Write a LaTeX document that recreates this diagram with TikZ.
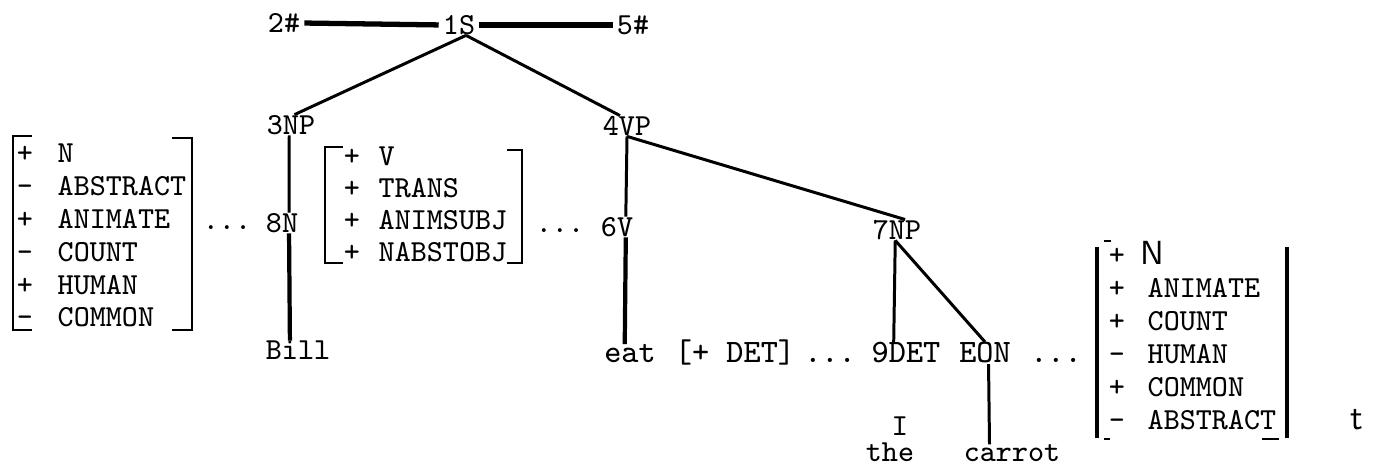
\documentclass[tikz,border=0pt]{standalone}
\begin{document}
\begin{tikzpicture}[x=0.01cm,y=-0.01cm,
    every node/.style={font=\fontsize{8.7}{10}\ttfamily,inner sep=0pt},
    rowtext/.style={font=\fontsize{9.3}{11}\ttfamily,anchor=base},
    feat/.style={anchor=base west},
    sign/.style={anchor=base},
    branch/.style={line width=0.85pt},
    stem/.style={line width=1.2pt},
    rule/.style={line width=1.5pt,shorten <=1pt,shorten >=1pt},
    brack/.style={line width=0.8pt}]
    \useasboundingbox (0,0) rectangle (1377,465);
    % sentence with boundaries
    \node (h2) at (284,23) {2\#};
    \node (s1) at (459,25) {1S};
    \node (h5) at (633,25) {5\#};
    \draw[rule] (h2.east)--(s1.west);
    \draw[rule] (s1.east)--(h5.west);
    % tree
    \node (np3) at (291,125) {3NP};
    \node (vp4) at (627,126) {4VP};
    \node (n8) at (282,223) {8N};
    \node (v6) at (617,227) {6V};
    \node (np7) at (897,230) {7NP};
    \draw[branch] ([xshift=2pt]s1.south)--([xshift=1pt]np3.north);
    \draw[branch] ([xshift=2pt]s1.south)--([xshift=-2pt]vp4.north);
    \draw[branch] ([xshift=-0.5pt]np3.south)--([xshift=2pt]n8.north);
    \draw[branch] (vp4.south)--([xshift=2.5pt]v6.north);
    \draw[branch] (vp4.south)--([xshift=2.3pt]np7.north);
    \node[anchor=base] (bill) at (298,360) {Bill};
    \node[rowtext] (eat) at (630,363) {eat};
    \node[rowtext] (det) at (735,363) {[+ DET]};
    \node[rowtext] (dots3) at (830,363) {...};
    \node[rowtext] (det9) at (906,363) {9DET};
    \node[rowtext] (eon) at (985,363) {EON};
    \node[rowtext] (dots4) at (1056,363) {...};
    \draw[stem] ([xshift=2pt]n8.south)--([xshift=-2.3pt]bill.north);
    \draw[stem] ([xshift=2.5pt]v6.south)--([xshift=-1.5pt]eat.north);
    \draw[branch] ([xshift=-0.5pt]np7.south)--([xshift=-3.5pt]det9.north);
    \draw[branch] ([xshift=-0.5pt]np7.south)--(eon.north);
    \node[anchor=base] (bar) at (900,436) {I};
    \node[anchor=base] (the) at (890,462) {the};
    \node[anchor=base] (carrot) at (1012,462) {carrot};
    \draw[branch] ([xshift=1pt]eon.south)--([xshift=-6.4pt]carrot.north);
    % features of Bill
    \foreach \s/\w [count=\i] in {+/N,-/ABSTRACT,+/ANIMATE,-/COUNT,+/HUMAN,-/COMMON}{
        \node[sign] (sa\i) at (25,{163+32.8*(\i-1)}) {\s};
        \node[feat] (fa\i) at (57,{163+32.8*(\i-1)}) {\w};
    }
    \draw[brack] (32,136)--(13,136)--(13,330)--(32,330);
    \draw[brack] (172,138)--(192,138)--(192,330)--(172,330);
    \node[anchor=base] (dots1) at (227,230) {...};
    % features of eat
    \foreach \w [count=\i] in {V,TRANS,ANIMSUBJ,NABSTOBJ}{
        \node[sign] (sb\i) at (352,{166+31.7*(\i-1)}) {+};
        \node[feat] (fb\i) at (378,{166+31.7*(\i-1)}) {\w};
    }
    \draw[brack] (343,147)--(325,147)--(325,263)--(343,263);
    \draw[brack] (507,150)--(522,150)--(522,263)--(507,263);
    \node[anchor=base] (dots2) at (560,233) {...};
    % features of carrot
    \node[sign] (sc1) at (1117,265) {+};
    \node[feat,font=\fontsize{9.5}{11}\sffamily] (fc1) at (1140,265) {N};
    \foreach \s/\w [count=\i from 2] in {+/ANIMATE,+/COUNT,-/HUMAN,+/COMMON,-/ABSTRACT}{
        \node[sign] (sc\i) at (1117,{298+33*(\i-2)}) {\s};
        \node[feat] (fc\i) at (1147,{298+33*(\i-2)}) {\w};
    }
    \draw[line width=1.2pt] (1097,247)--(1097,438);
    \draw[line width=1.2pt] (1287,247)--(1287,438);
    \draw[brack] (1104,241)--(1111,241);
    \draw[brack] (1104,439)--(1110,439);
    \draw[brack] (1262,439)--(1279,439);
    \node[anchor=base,font=\fontsize{10}{12}\sffamily] (tt) at (1357,430) {t};
\end{tikzpicture}
\end{document}
